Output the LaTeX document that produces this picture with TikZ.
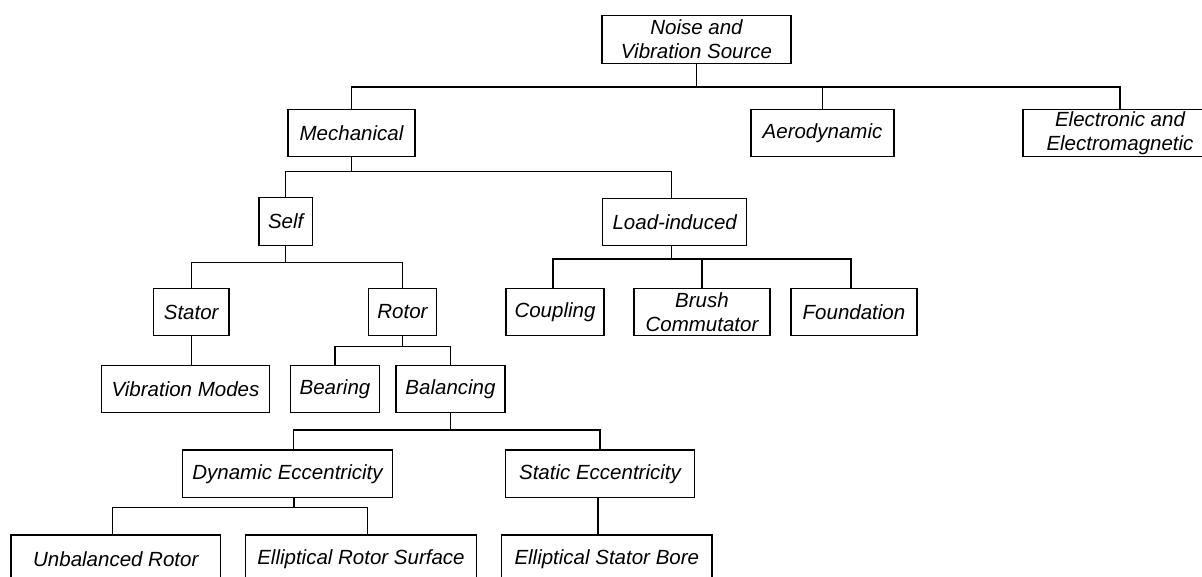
\documentclass[tikz,border=0pt]{standalone}
\usepackage{fontspec}
\setmainfont{Liberation Sans}
\begin{document}
\begin{tikzpicture}[x=1pt,y=-1pt,
  box/.style={draw, line width=1.3pt, inner sep=0pt, minimum height=47.5pt, align=center,
    font=\itshape\fontsize{20.5}{24}\selectfont},
  link/.style={line width=1.3pt}]
\useasboundingbox (0,0) rectangle (1202,576);
% nodes
\node[box, minimum width=189pt]   (noise) at (696.5,39.5) {Noise and\\Vibration Source};
\node[box, minimum width=127pt]   (mech)  at (351.5,133) {Mechanical};
\node[box, minimum width=143pt]   (aero)  at (822.5,133) {Aerodynamic};
\node[box, minimum width=194pt]   (elec)  at (1120,133) {Electronic and\\Electromagnetic};
\node[box, minimum width=53.3pt]  (self)  at (285.7,221.5) {Self};
\node[box, minimum width=144pt]   (load)  at (674.7,222) {Load-induced};
\node[box, minimum width=75.7pt]  (stator) at (191.2,312) {Stator};
\node[box, minimum width=68.4pt]  (rotor) at (402.5,312) {Rotor};
\node[box, minimum width=98pt]    (coup)  at (555,312) {Coupling};
\node[box, minimum width=136pt]   (brush) at (702,312) {Brush\\Commutator};
\node[box, minimum width=126pt]   (found) at (854,312) {Foundation};
\node[box, minimum width=167.6pt] (vib)   at (185.5,389) {Vibration Modes};
\node[box, minimum width=88.6pt]  (bear)  at (335,389) {Bearing};
\node[box, minimum width=109pt]   (bal)   at (450.5,389) {Balancing};
\node[box, minimum width=210.4pt] (dyn)   at (287.5,473.7) {Dynamic Eccentricity};
\node[box, minimum width=189.4pt] (stat)  at (600,473.7) {Static Eccentricity};
\node[box, minimum width=209.7pt] (unb)   at (115.8,558.7) {Unbalanced Rotor};
\node[box, minimum width=230.8pt] (ers)   at (361,558.7) {Elliptical Rotor Surface};
\node[box, minimum width=210.3pt] (esb)   at (606.8,558.7) {Elliptical Stator Bore};
% connectors
\draw[link] (noise.south) -- ++(0,23.2) coordinate (b0);
\draw[link] (mech.north) |- (b0) -| (elec.north);
\draw[link] (b0 -| aero.north) -- (aero.north);

\draw[link] (mech.south) -- ++(0,14) coordinate (b1);
\draw[link] (self.north) |- (b1) -| ([xshift=-3pt]load.north);

\draw[link] (self.south) -- ++(0,16.7) coordinate (b2);
\draw[link] (stator.north) |- (b2) -| (rotor.north);
\draw[link] (stator.south) -- (stator.south |- vib.north);

\draw[link] ([xshift=-3pt]load.south) -- ++(0,12.6) coordinate (b3);
\draw[link] ([xshift=-2pt]coup.north) |- (b3) -| ([xshift=-3pt]found.north);
\draw[link] (b3 -| brush.north) -- (brush.north);

\draw[link] (rotor.south) -- ++(0,10) coordinate (b4);
\draw[link] (bear.north) |- (b4) -| (bal.north);

\draw[link] (bal.south) -- ++(0,16.6) coordinate (b5);
\draw[link] ([xshift=6pt]dyn.north) |- (b5) -| (stat.north);

\draw[link] ([xshift=6.5pt]dyn.south) -- ++(0,9.4) coordinate (b6);
\draw[link] ([xshift=-3.5pt]unb.north) |- (b6) -| ([xshift=6.7pt]ers.north);

\draw[link] ([xshift=-2pt]stat.south) -- ([xshift=-2pt]stat.south |- esb.north);
\end{tikzpicture}
\end{document}
